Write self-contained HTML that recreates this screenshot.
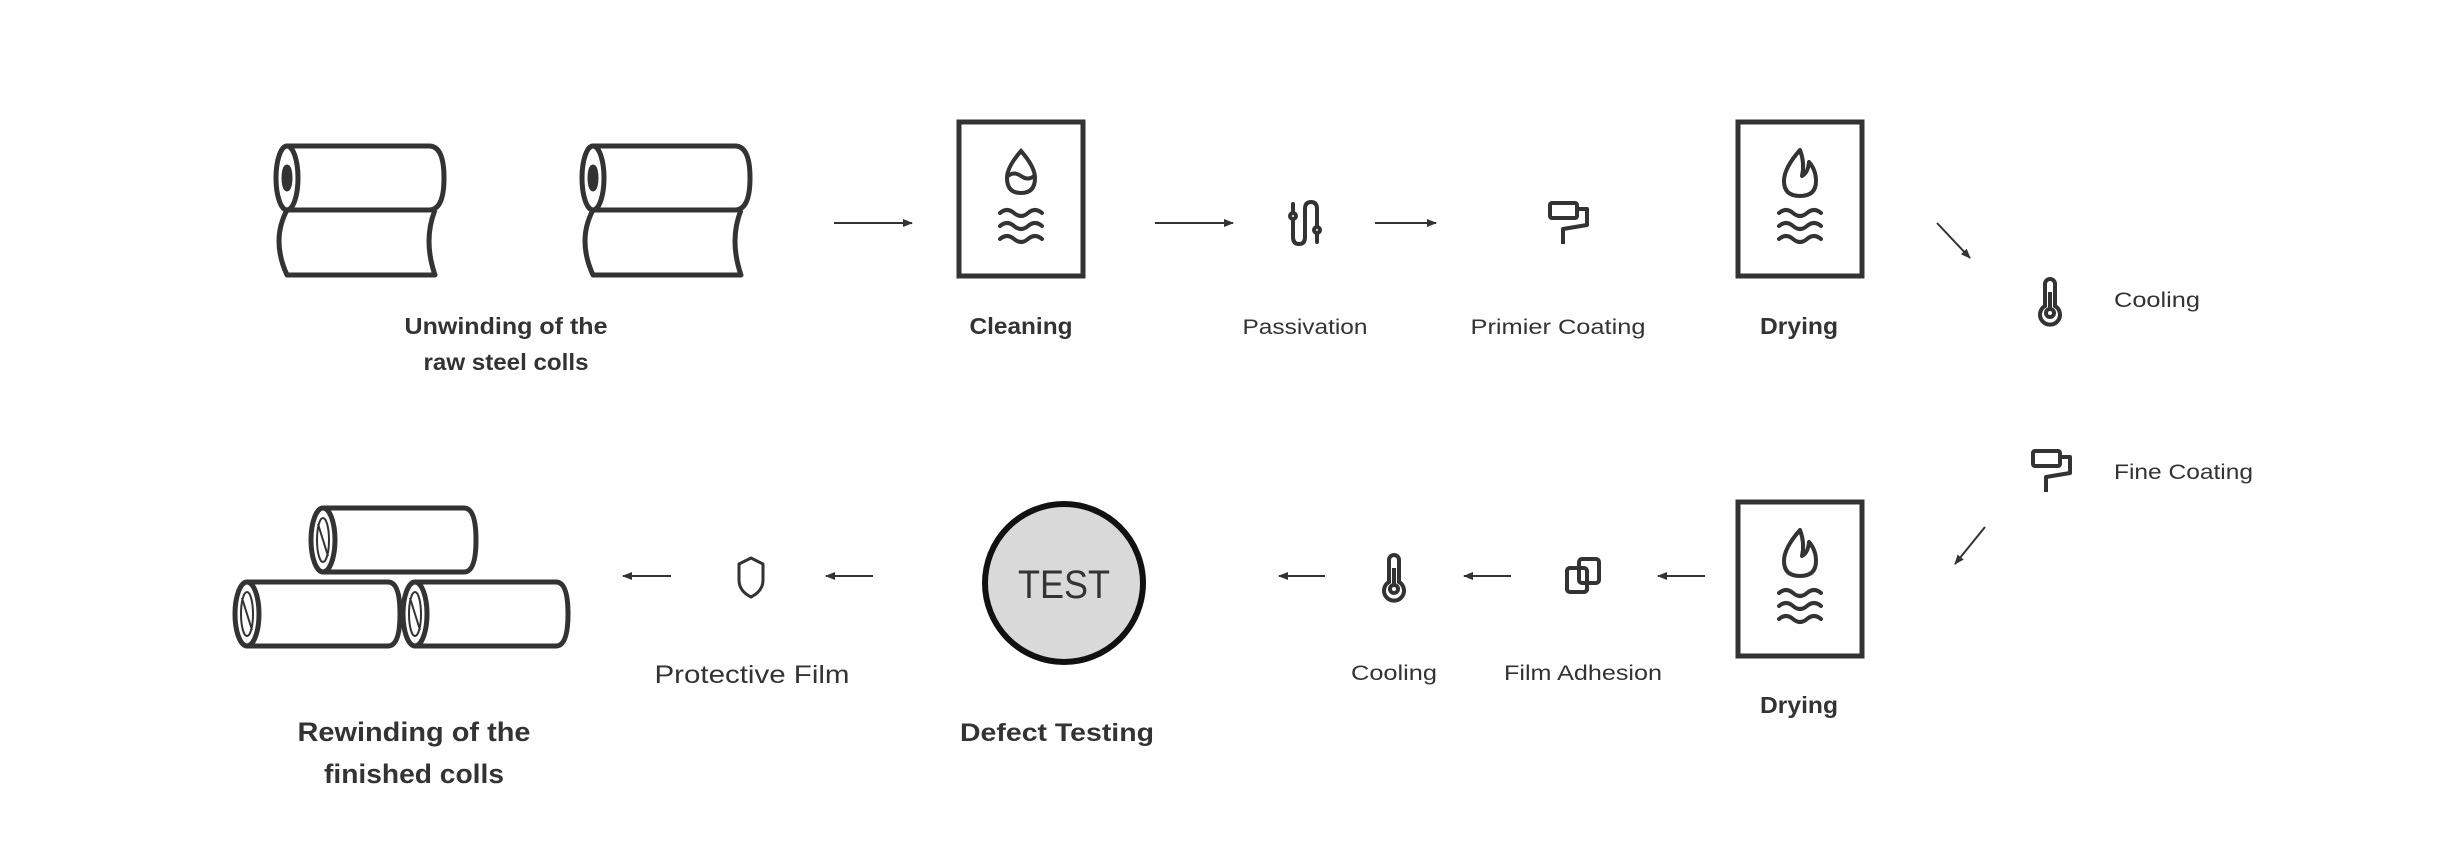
<!DOCTYPE html>
<html><head><meta charset="utf-8"><style>
html,body{margin:0;padding:0;background:#fff;}
svg{display:block;}
text{font-family:"Liberation Sans",sans-serif;fill:#333;}
.b{font-weight:bold;}
</style></head><body>
<svg width="2448" height="852" viewBox="0 0 2448 852" xmlns="http://www.w3.org/2000/svg">
<defs>
<marker id="ah" markerWidth="10" markerHeight="10" refX="9" refY="5" orient="auto" markerUnits="userSpaceOnUse">
<path d="M0,1 L10,5 L0,9 Z" fill="#333"/>
</marker>
<g id="roll" fill="none" stroke="#333" stroke-width="5" stroke-linejoin="round">
<path d="M12 1 H154 Q169 1 169 33 Q169 65 154 65 H12"/>
<ellipse cx="12" cy="33" rx="11" ry="32" fill="#fff"/>
<ellipse cx="12" cy="33" rx="3" ry="11" fill="#333"/>
<path d="M12 65 Q-4 95 12 130 H160 Q148 95 160 65"/>
</g>
<g id="cyl" fill="none" stroke="#333" stroke-width="5">
<path d="M14 2 H155 Q167 2 167 34 Q167 66 155 66 H14"/>
<ellipse cx="14" cy="34" rx="12" ry="32" fill="#fff"/>
<ellipse cx="14" cy="34" rx="6" ry="22" stroke-width="2"/>
<line x1="9" y1="18" x2="19" y2="50" stroke-width="2"/>
</g>
<g id="therm" fill="none" stroke="#333" stroke-width="4">
<path d="M-5 8 V-14 A5 5 0 0 1 5 -14 V8 A10 10 0 1 1 -5 8 Z"/>
<circle cx="0" cy="15" r="4"/>
<line x1="0" y1="-6" x2="0" y2="11"/>
</g>
<g id="roller" fill="none" stroke="#333" stroke-width="4" stroke-linejoin="round">
<rect x="-19" y="-20" width="27" height="15" rx="2"/>
<path d="M8 -14 H18 V2 L-6 6 V21"/>
</g>
<g id="waves" fill="none" stroke="#333" stroke-width="4" stroke-linecap="round">
<path d="M-21 -5 Q-14 -11 -7 -5 Q0 1 7 -5 Q14 -11 21 -5"/>
<path d="M-21 8 Q-14 2 -7 8 Q0 14 7 8 Q14 2 21 8"/>
<path d="M-21 21 Q-14 15 -7 21 Q0 27 7 21 Q14 15 21 21"/>
</g>
<g id="dryicon">
<path d="M0 -68 Q-16 -50 -16 -37 Q-16 -22 0 -22 Q16 -22 16 -37 Q16 -48 9 -56 Q8 -45 2 -42 Q5 -55 0 -68 Z" fill="none" stroke="#333" stroke-width="4" stroke-linejoin="round"/>
<use href="#waves"/>
</g>
</defs>

<!-- Top row -->
<use href="#roll" x="275" y="145"/>
<use href="#roll" x="581" y="145"/>
<text class="b" x="506" y="334" font-size="23" text-anchor="middle" textLength="203" lengthAdjust="spacingAndGlyphs">Unwinding of the</text>
<text class="b" x="506" y="370" font-size="23" text-anchor="middle" textLength="165" lengthAdjust="spacingAndGlyphs">raw steel colls</text>

<line x1="834" y1="223" x2="912" y2="223" stroke="#333" stroke-width="2" marker-end="url(#ah)"/>

<rect x="959" y="122" width="124" height="154" fill="none" stroke="#333" stroke-width="5"/>
<g fill="none" stroke="#333" stroke-width="4" stroke-linecap="round">
<path d="M1021 151 Q1007 167 1007 178 Q1007 193 1021 193 Q1035 193 1035 178 Q1035 167 1021 151 Z"/>
<path d="M1008 176 Q1014 171 1021 176 Q1028 181 1034 176"/>
</g>
<use href="#waves" x="1021" y="218"/>
<text class="b" x="1021" y="334" font-size="23" text-anchor="middle" textLength="103" lengthAdjust="spacingAndGlyphs">Cleaning</text>

<line x1="1155" y1="223" x2="1233" y2="223" stroke="#333" stroke-width="2" marker-end="url(#ah)"/>

<g fill="none" stroke="#333" stroke-width="4" stroke-linecap="round">
<path d="M1293 204 V237 Q1293 244 1299 244 Q1305 244 1305 237 V209 Q1305 202 1311 202 Q1317 202 1317 209 V242"/>
<circle cx="1293" cy="216" r="3" fill="#fff"/>
<circle cx="1317" cy="230" r="3" fill="#fff"/>
</g>
<text x="1305" y="334" font-size="21" text-anchor="middle" textLength="125" lengthAdjust="spacingAndGlyphs">Passivation</text>

<line x1="1375" y1="223" x2="1436" y2="223" stroke="#333" stroke-width="2" marker-end="url(#ah)"/>

<use href="#roller" x="1569" y="223"/>
<text x="1558" y="334" font-size="21" text-anchor="middle" textLength="175" lengthAdjust="spacingAndGlyphs">Primier Coating</text>

<rect x="1738" y="122" width="124" height="154" fill="none" stroke="#333" stroke-width="5"/>
<use href="#dryicon" x="1800" y="218"/>
<text class="b" x="1799" y="334" font-size="23" text-anchor="middle" textLength="78" lengthAdjust="spacingAndGlyphs">Drying</text>

<line x1="1937" y1="223" x2="1970" y2="258" stroke="#333" stroke-width="2" marker-end="url(#ah)"/>

<use href="#therm" x="2050" y="298"/>
<text x="2114" y="307" font-size="21" textLength="86" lengthAdjust="spacingAndGlyphs">Cooling</text>

<!-- Second row -->
<use href="#roller" x="2052" y="471"/>
<text x="2114" y="479" font-size="21" textLength="139" lengthAdjust="spacingAndGlyphs">Fine Coating</text>

<line x1="1985" y1="527" x2="1955" y2="564" stroke="#333" stroke-width="2" marker-end="url(#ah)"/>

<rect x="1738" y="502" width="124" height="154" fill="none" stroke="#333" stroke-width="5"/>
<use href="#dryicon" x="1800" y="598"/>
<text class="b" x="1799" y="713" font-size="23" text-anchor="middle" textLength="78" lengthAdjust="spacingAndGlyphs">Drying</text>

<line x1="1705" y1="576" x2="1658" y2="576" stroke="#333" stroke-width="2" marker-end="url(#ah)"/>

<g fill="none" stroke="#333" stroke-width="4">
<rect x="1567" y="568" width="20" height="24" rx="3"/>
<rect x="1579" y="559" width="20" height="24" rx="3" fill="#fff"/>
<rect x="1567" y="568" width="20" height="24" rx="3" fill="none"/>
</g>
<text x="1583" y="680" font-size="21" text-anchor="middle" textLength="158" lengthAdjust="spacingAndGlyphs">Film Adhesion</text>

<line x1="1511" y1="576" x2="1464" y2="576" stroke="#333" stroke-width="2" marker-end="url(#ah)"/>

<use href="#therm" x="1394" y="574"/>
<text x="1394" y="680" font-size="21" text-anchor="middle" textLength="86" lengthAdjust="spacingAndGlyphs">Cooling</text>

<line x1="1325" y1="576" x2="1279" y2="576" stroke="#333" stroke-width="2" marker-end="url(#ah)"/>

<circle cx="1064" cy="583" r="79" fill="#d9d9d9" stroke="#111" stroke-width="6"/>
<text x="1064" y="598" font-size="40" text-anchor="middle" textLength="92" lengthAdjust="spacingAndGlyphs">TEST</text>
<text class="b" x="1057" y="741" font-size="25" text-anchor="middle" textLength="194" lengthAdjust="spacingAndGlyphs">Defect Testing</text>

<line x1="873" y1="576" x2="826" y2="576" stroke="#333" stroke-width="2" marker-end="url(#ah)"/>

<path d="M751 558 L739 564 V580 Q739 591 751 597 Q763 591 763 580 V564 Z" fill="none" stroke="#333" stroke-width="3" stroke-linejoin="round"/>
<text x="752" y="683" font-size="25" text-anchor="middle" textLength="195" lengthAdjust="spacingAndGlyphs">Protective Film</text>

<line x1="671" y1="576" x2="623" y2="576" stroke="#333" stroke-width="2" marker-end="url(#ah)"/>

<use href="#cyl" x="309" y="506"/>
<use href="#cyl" x="233" y="580"/>
<use href="#cyl" x="401" y="580"/>
<text class="b" x="414" y="741" font-size="27" text-anchor="middle" textLength="233" lengthAdjust="spacingAndGlyphs">Rewinding of the</text>
<text class="b" x="414" y="783" font-size="27" text-anchor="middle" textLength="180" lengthAdjust="spacingAndGlyphs">finished colls</text>
</svg>
</body></html>
